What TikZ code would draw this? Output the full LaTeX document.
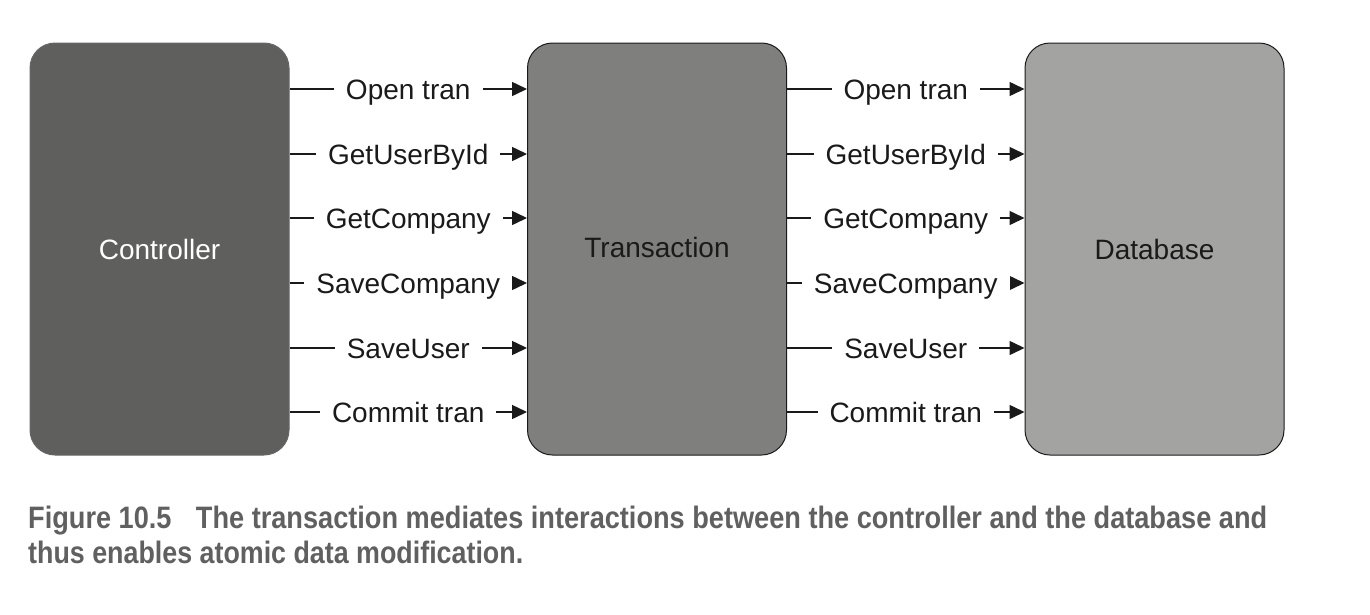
\documentclass[tikz,border=0pt]{standalone}
\usepackage{fontspec}
\usepackage{graphicx}
\setmainfont{Liberation Sans}
\usetikzlibrary{arrows.meta}
\definecolor{cctrl}{HTML}{5F5F5E}
\definecolor{ctran}{HTML}{7F807E}
\definecolor{cdb}{HTML}{A3A4A2}
\definecolor{capgray}{HTML}{606060}
\definecolor{ink}{HTML}{1A1A1A}
\begin{document}
\begin{tikzpicture}[x=1pt,y=-1pt,
  box/.style={draw=#1, line width=1pt, rounded corners=25pt, minimum width=259pt, minimum height=412pt, inner sep=0pt, font=\fontsize{28}{34}\selectfont},
  conn/.style={line width=1.5pt, draw=ink, -{Triangle[length=15pt,width=14pt]}},
  lbl/.style={fill=white, text=ink, inner xsep=12pt, inner ysep=2pt, text height=20pt, text depth=0pt, font=\fontsize{28}{34}\selectfont},
  captxt/.style={anchor=base west, inner sep=0pt, text=capgray, font=\bfseries\fontsize{31}{36}\selectfont}]
\useasboundingbox (0,0) rectangle (1370,614);
\node[box=gray!80!black, fill=cctrl, text=white] (ctrl) at (159.5,249) {Controller};
\node[box=ink, fill=ctran, text=ink] (tran) at (657,249) {};
\node[text=ink, font=\fontsize{28}{34}\selectfont, inner sep=0pt] (tlab) at (657,247) {Transaction};
\node[box=ink, fill=cdb, text=ink] (db) at (1154.5,249) {Database};
\foreach \y/\t [count=\i] in {89/Open tran, 154/GetUserById, 218/GetCompany, 283/SaveCompany, 348/SaveUser, 412/Commit tran}{
  \coordinate (r\i) at (0,\y);
  \draw[conn] (ctrl.east |- r\i) -- (tran.west |- r\i) node[lbl, midway] {\t};
  \draw[conn] (tran.east |- r\i) -- (db.west |- r\i) node[lbl, midway] {\t};
}
\node[captxt] (cap1) at (28,528)
  {\resizebox{1239pt}{\height}{Figure 10.5\hspace{0.9em}The transaction mediates interactions between the controller and the database and}};
\node[captxt] (cap2) at (28,563)
  {\resizebox{495pt}{\height}{thus enables atomic data modification.}};
\end{tikzpicture}
\end{document}
